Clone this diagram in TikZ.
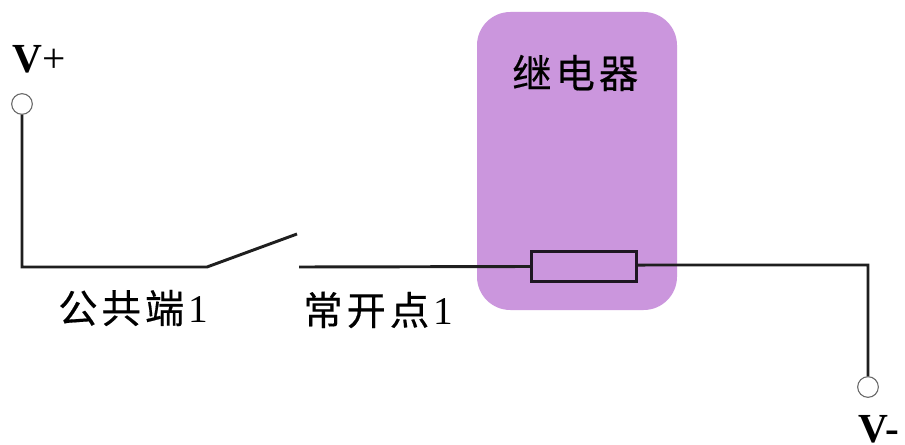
\documentclass[tikz,border=0pt]{standalone}
\usepackage{fontspec}
\setmainfont{Liberation Serif}
\newfontfamily\cjk[FakeBold=0.4]{Noto Sans CJK SC}
\definecolor{relay}{HTML}{CB96DD}
\newcommand{\sepgap}{\hspace{3pt}}
\tikzset{x=0.75pt,y=-0.75pt,
 wire/.style={draw=black!88,line width=2.2pt},
 term/.style={circle,draw=black!60,fill=white,line width=0.8pt,minimum size=15.5pt,inner sep=0pt},
 lab/.style={font=\fontsize{31pt}{31pt}\selectfont,inner sep=0pt,anchor=base west},
 cjklab/.style={font=\cjk\fontsize{29.5pt}{29.5pt}\selectfont,inner sep=0pt,anchor=west}}
\begin{document}
\begin{tikzpicture}
\useasboundingbox (0,0) rectangle (905,445);
\fill[white] (0,0) rectangle (905,445);
\fill[relay,rounded corners=25pt] (477,12) rectangle (677,310);
\node[term] (vp) at (22,104) {};
\node[term] (vm) at (868,387) {};
\coordinate (c1) at (22,267);
\coordinate (c2) at (207,267);
\coordinate (arm) at (297,234);
\coordinate (no) at (299,267);
\node[draw=black!85!relay,line width=2.3pt,minimum width=78.75pt,minimum height=22.5pt,inner sep=0pt,anchor=center] (coil) at (584,266.5) {};
\coordinate (c3) at (868,265);
\draw[wire,line join=miter] (vp) -- (c1) -- (c2) -- (arm);
\draw[wire] (no) -- (coil.west);
\draw[wire] ([yshift=1.1pt]coil.east) -- (c3) -- (vm);
\node[lab] (tp) at (12,73) {\textbf{V}+};
\node[lab] (tm) at (858,442) {\textbf{V-}};
\node[cjklab] (a) at (58,308) {公\sepgap 共\sepgap 端\sepgap\fontspec{Liberation Serif}1};
\node[cjklab] (b) at (303,310) {常\sepgap 开\sepgap 点\sepgap\fontspec{Liberation Serif}1};
\node[cjklab] (r) at (512,73) {继\sepgap 电\sepgap 器};
\end{tikzpicture}
\end{document}
